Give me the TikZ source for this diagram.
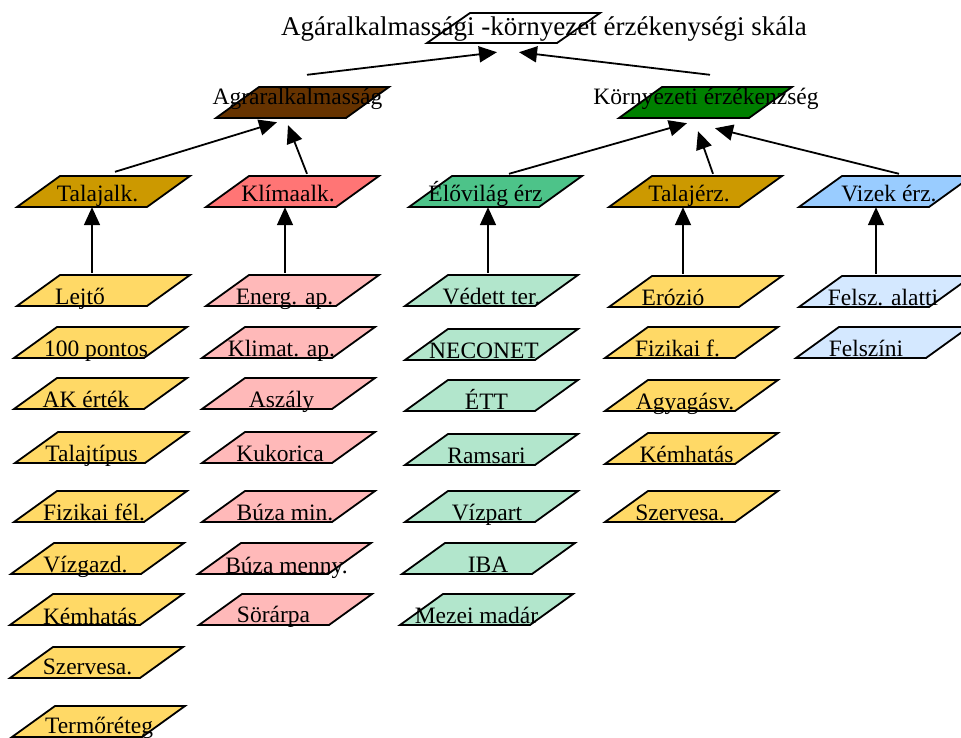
\documentclass[tikz,border=0pt]{standalone}
\usepackage{fontspec}
\setmainfont{Liberation Serif}
\usetikzlibrary{arrows.meta,calc}
\definecolor{leafY}{RGB}{255,217,102}
\definecolor{goldc}{RGB}{204,153,0}
\definecolor{klimc}{RGB}{255,117,117}
\definecolor{eloc}{RGB}{77,195,137}
\definecolor{vizc}{RGB}{153,204,255}
\definecolor{agrbrown}{RGB}{102,51,0}
\definecolor{kgreen}{RGB}{0,128,0}
\definecolor{leafP}{RGB}{255,185,185}
\definecolor{leafG}{RGB}{178,230,204}
\definecolor{leafB}{RGB}{212,232,255}
\tikzset{
  pshape/.style={draw=black, line width=1.8pt, line join=miter},
  pbox/.style={minimum width=173, minimum height=31, inner sep=0pt, draw=none},
  ptext/.style={anchor=base, inner sep=0pt, font=\fontsize{23.5}{28}\selectfont},
  ttext/.style={anchor=base, inner sep=0pt, font=\fontsize{27}{32}\selectfont},
  arr/.style={line width=1.8pt, -{Triangle[length=18pt,width=16pt]}}
}
% #1 name, #2 bottom-left x, #3 top y, #4 fill, #5 text, #6 text centre from #2, #7 baseline from #3
\newcommand\pgram[7]{%
  \draw[pshape, fill=#4] (#2+43,#3) -- ++(130,0) -- ++(-43,31) -- ++(-130,0) -- cycle;
  \node[pbox] (#1) at (#2+86.5,#3+15.5) {};
  \node[ptext] (#1-t) at (#2+#6,#3+#7) {#5};
}
\begin{document}
\begin{tikzpicture}[x=1pt,y=-1pt]
\useasboundingbox[fill=white] (0,0) rectangle (961,738);

% top
\draw[pshape, fill=white] (470,13) -- ++(130,0) -- ++(-43,30) -- ++(-130,0) -- cycle;
\node[pbox, minimum height=30] (cim) at (513.5,28) {};
\node[ttext] (cim-t) at (544,36) {Agáralkalmassági -környezet érzékenységi skála};

% level 1
\pgram{agrar}{216}{87}{agrbrown}{Agraralkalmasság}{81.5}{18}
\pgram{korny}{619}{87}{kgreen}{Környezeti érzékenzség}{87}{18}

% level 2
\pgram{talajalk}{17}{176}{goldc}{Talajalk.}{80.5}{26}
\pgram{klima}{206}{176}{klimc}{Klímaalk.}{82}{26}
\pgram{elo}{409}{176}{eloc}{Élővilág érz}{76.5}{26}
\pgram{talajerz}{609}{176}{goldc}{Talajérz.}{80}{26}
\pgram{vizek}{799}{176}{vizc}{Vizek érz.}{90}{26}

% column 1
\pgram{lejto}{17}{275}{leafY}{Lejtő}{63}{29}
\pgram{pont}{14}{327}{leafY}{100 pontos}{82}{29}
\pgram{ak}{14}{378}{leafY}{AK érték}{72}{29}
\pgram{tipus}{15}{432}{leafY}{Talajtípus}{76.5}{29}
\pgram{fizfel}{14}{491}{leafY}{Fizikai fél.}{80}{29}
\pgram{vizg}{11}{543}{leafY}{Vízgazd.}{74.5}{29}
\pgram{kemh}{10}{594}{leafY}{Kémhatás}{80}{30}
\pgram{szerv}{10}{647}{leafY}{Szervesa.}{77.5}{27}
\pgram{termo}{12}{706}{leafY}{Termőréteg}{87}{27}

% column 2
\pgram{energ}{206}{275}{leafP}{Energ. ap.}{78.5}{29}
\pgram{klimat}{202}{327}{leafP}{Klimat. ap.}{79.5}{29}
\pgram{aszaly}{202}{378}{leafP}{Aszály}{79.5}{29}
\pgram{kuk}{202}{432}{leafP}{Kukorica}{78}{29}
\pgram{bmin}{202}{491}{leafP}{Búza min.}{83}{29}
\pgram{bmenny}{198}{543}{leafP}{Búza menny.}{88.5}{30}
\pgram{sor}{199}{594}{leafP}{Sörárpa}{74.5}{28}

% column 3
\pgram{vedett}{405}{275}{leafG}{Védett ter.}{86.5}{29}
\pgram{neco}{405}{329}{leafG}{NECONET}{79}{29}
\pgram{ett}{405}{380}{leafG}{ÉTT}{81.5}{29}
\pgram{ramsar}{405}{434}{leafG}{Ramsari}{81.5}{29}
\pgram{vizpart}{405}{491}{leafG}{Vízpart}{82}{29}
\pgram{iba}{402}{543}{leafG}{IBA}{86}{29}
\pgram{mezei}{400}{594}{leafG}{Mezei madár}{76.5}{29}

% column 4
\pgram{erozio}{609}{276}{leafY}{Erózió}{64}{29}
\pgram{fizf}{605}{327}{leafY}{Fizikai f.}{72.5}{29}
\pgram{agyag}{605}{380}{leafY}{Agyagásv.}{80}{29}
\pgram{kemh2}{605}{433}{leafY}{Kémhatás}{81.5}{29}
\pgram{szerv2}{605}{491}{leafY}{Szervesa.}{75}{29}

% column 5
\pgram{felszal}{799}{276}{leafB}{Felsz. alatti}{84}{29}
\pgram{felszini}{796}{327}{leafB}{Felszíni}{70}{29}

% connectors level 1 -> top
\draw[arr] ($(agrar.north)+(4.5,-12)$) -- ($(cim.south)+(-16.5,9)$);
\draw[arr] ($(korny.north)+(4.5,-12)$) -- ($(cim.south)+(5.5,9)$);
% level 2 -> level 1
\draw[arr] ($(talajalk.north)+(11.5,-4)$) -- ($(agrar.south)+(-25.5,4)$);
\draw[arr] ($(klima.north)+(14.5,-2)$) -- ($(agrar.south)+(-14.5,7)$);
\draw[arr] ($(elo.north)+(13.5,-2)$) -- ($(korny.south)+(-18.5,5)$);
\draw[arr] ($(talajerz.north)+(17.5,-2)$) -- ($(korny.south)+(-7.5,13)$);
\draw[arr] ($(vizek.north)+(13.5,-2)$) -- ($(korny.south)+(9.5,10)$);
% leaves -> level 2
\draw[arr] ($(talajalk.south |- lejto.north)+(-11.5,-2)$) -- ($(talajalk.south)+(-11.5,0)$);
\draw[arr] ($(klima.south |- energ.north)+(-7.5,-2)$) -- ($(klima.south)+(-7.5,0)$);
\draw[arr] ($(elo.south |- vedett.north)+(-7.5,-2)$) -- ($(elo.south)+(-7.5,0)$);
\draw[arr] ($(talajerz.south |- erozio.north)+(-12.5,-2)$) -- ($(talajerz.south)+(-12.5,0)$);
\draw[arr] ($(vizek.south |- felszal.north)+(-9.5,-2)$) -- ($(vizek.south)+(-9.5,0)$);
\end{tikzpicture}
\end{document}
